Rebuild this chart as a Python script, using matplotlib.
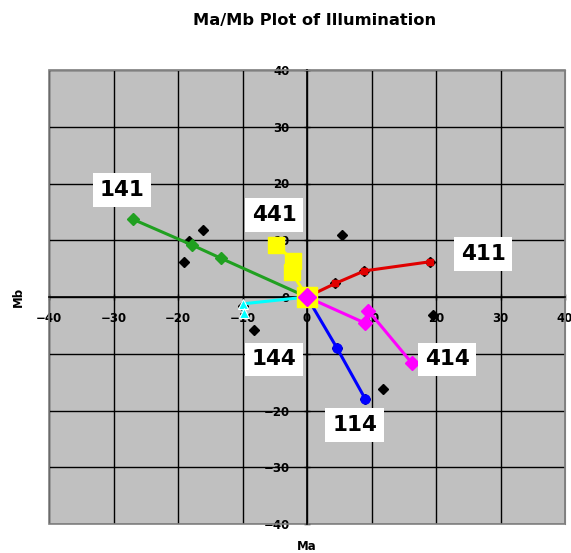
import matplotlib
matplotlib.use("Agg")
import matplotlib.pyplot as plt
from matplotlib.patches import Rectangle

# ---- data ----
s141_x = [0, -13.3, -17.9, -27.0]
s141_y = [0, 6.8, 9.2, 13.7]
s441_x = [0, -2.4, -2.1, -4.8]
s441_y = [0, 4.4, 6.4, 9.2]
s411_x = [0, 4.4, 8.9, 19.0]
s411_y = [0, 2.4, 4.6, 6.2]
s414_x = [0, 9.0, 9.5, 16.3]
s414_y = [0, -4.6, -2.4, -11.7]
s114_x = [0, 4.6, 9.0]
s114_y = [0, -8.9, -17.9]
s144_x = [0, -9.9, -9.8]
s144_y = [0, -1.2, -2.8]
meas_x = [-16.2, -19.1, -8.2, 5.5, 19.6, 11.8, 4.4, 8.9, 19.0, 4.6, 9.0, -10.0, -18.3]
meas_y = [11.8, 6.1, -5.9, 11.0, -3.1, -16.2, 2.4, 4.6, 6.2, -8.9, -17.9, -1.5, 9.8]
ticks = [-40, -30, -20, -10, 0, 10, 20, 30, 40]
labels = ["141", "441", "411", "414", "144", "114"]
label_x = [-28.7, -5.1, 27.3, 21.7, -5.1, 7.4]
label_y = [18.9, 14.5, 7.6, -11.0, -11.0, -22.6]

fig = plt.figure(figsize=(5.71, 5.53), dpi=100)
ax = fig.add_axes([49/571, 29/553, 516/571, 454/553])
ax.set_facecolor('#C0C0C0')
ax.set_xlim(-40, 40)
ax.set_ylim(-40, 40)
ax.set_xticks(ticks)
ax.set_yticks(ticks)
ax.grid(True, color='black', lw=1.0, zorder=0)
ax.set_axisbelow(True)

for side in ['top', 'right']:
    ax.spines[side].set_color('#808080')
ax.spines['left'].set_position('zero')
ax.spines['bottom'].set_position('zero')
ax.spines['left'].set_color('black')
ax.spines['bottom'].set_color('black')
ax.spines['left'].set_linewidth(1.2)
ax.spines['bottom'].set_linewidth(1.2)

ax.add_patch(Rectangle((0, 0), 1, 1, transform=ax.transAxes, fill=False,
                       edgecolor='#808080', lw=1.2, zorder=1, clip_on=False))

tick_font = dict(fontsize=8.5, fontweight='bold', family='DejaVu Sans')
ax.set_xticklabels([str(t).replace('-', '\u2212') for t in ticks], **tick_font)
ax.set_yticklabels([str(t).replace('-', '\u2212') for t in ticks], **tick_font)
ax.tick_params(axis='x', direction='inout', length=5, pad=8, width=1)
ax.tick_params(axis='y', direction='inout', length=5, pad=10, width=1)

# measured points
ax.plot(meas_x, meas_y, ls='none', marker='D', ms=5.5, color='black', zorder=3)

ax.plot(s141_x, s141_y, color='#20A020', lw=2.2, marker='D', ms=6, zorder=4)
ax.plot(s144_x, s144_y, color='#00FFFF', lw=2.2, marker='^', ms=7,
        mec='white', mew=0.8, zorder=4)
ax.plot(s441_x, s441_y, color='#FFFF00', lw=2.2, marker='s', ms=11, zorder=4)
ax.plot(s411_x, s411_y, color='#E00000', lw=2.2, marker='s', ms=5, zorder=4)
ax.plot(s114_x, s114_y, color='#0000FF', lw=2.2, marker='o', ms=6.5, zorder=4)
ax.plot(s414_x, s414_y, color='#FF00FF', lw=2.2, marker='D', ms=7.5, zorder=5)
ax.plot([s441_x[0]], [s441_y[0]], ls='none', marker='s', ms=14, color='#FFFF00', zorder=6)
ax.plot([s414_x[0]], [s414_y[0]], ls='none', marker='D', ms=9, color='#FF00FF', zorder=7)

for t, x, y in zip(labels, label_x, label_y):
    ax.text(x, y, t, fontsize=15.5, fontweight='bold', ha='center', va='center',
            zorder=8, bbox=dict(boxstyle='square,pad=0.32', fc='white', ec='none'))

fig.text(315/571, 1 - 20/553, 'Ma/Mb Plot of Illumination', ha='center', va='center',
         fontsize=11.7, fontweight='bold')
fig.text(307/571, 1 - 546/553, 'Ma', ha='center', va='center', fontsize=8.5, fontweight='bold')
fig.text(18/571, 1 - 297/553, 'Mb', ha='center', va='center', fontsize=8.5,
         fontweight='bold', rotation=90)

fig.savefig('out.png', dpi=100)
